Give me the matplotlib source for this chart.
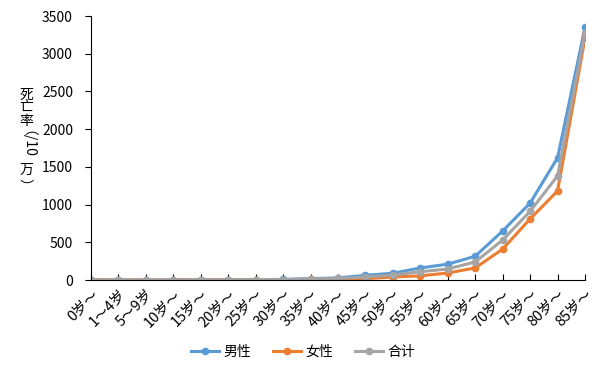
import matplotlib.pyplot as plt

plt.rcParams['font.family'] = ['Noto Sans CJK SC', 'DejaVu Sans']

ages = ['0岁～', '1～4岁', '5～9岁', '10岁～', '15岁～', '20岁～', '25岁～', '30岁～',
        '35岁～', '40岁～', '45岁～', '50岁～', '55岁～', '60岁～', '65岁～', '70岁～',
        '75岁～', '80岁～', '85岁～']
male = [2, 0.5, 0.5, 1, 2, 3, 5, 8, 18, 28, 62, 90, 160, 210, 315, 650, 1020, 1620, 3350]
female = [2, 0.3, 0.3, 0.5, 1, 1.5, 2, 4, 8, 12, 18, 40, 55, 93, 160, 410, 810, 1180, 3210]
total = [2, 0.4, 0.4, 0.7, 1.5, 2, 4, 6, 13, 20, 40, 66, 110, 146, 240, 530, 910, 1380, 3275]

fig = plt.figure(figsize=(6.01, 3.71), dpi=100)
ax = fig.add_axes([91 / 601, 1 - 280 / 371, (585 - 91) / 601, (280 - 16) / 371])

x = range(len(ages))
ax.plot(x, male, color='#5B9BD5', lw=2.2, marker='o', ms=4.5, label='男性')
ax.plot(x, female, color='#ED7D31', lw=2.2, marker='o', ms=4.5, label='女性')
ax.plot(x, total, color='#A5A5A5', lw=2.2, marker='o', ms=4.5, label='合计')

ax.set_xlim(0, len(ages) - 1)
ax.set_ylim(0, 3500)
ax.set_yticks(range(0, 3501, 500))
ax.set_xticks(list(x))
ax.set_xticklabels(ages, rotation=45, ha='right', rotation_mode='anchor', fontsize=10.5)
ax.tick_params(axis='y', direction='out', length=4, labelsize=10, pad=9)
ax.tick_params(axis='x', direction='in', length=4, pad=5)
for s in ['top', 'right']:
    ax.spines[s].set_visible(False)

# vertical y label, East Asian style
fig.text(26 / 601, 1 - 108 / 371, '死\n亡\n率', ha='center', va='center', fontsize=10, linespacing=0.9)
fig.text(21 / 601, 1 - 147 / 371, '（/10', ha='center', va='center', fontsize=10, rotation=-90)
fig.text(26 / 601, 1 - 170 / 371, '万', ha='center', va='center', fontsize=10)
fig.text(24 / 601, 1 - 185 / 371, '）', ha='center', va='center', fontsize=10, rotation=-90)

fig.legend(loc='center', bbox_to_anchor=(303 / 601, 1 - 352 / 371), ncol=3, frameon=False,
           fontsize=10, handlelength=2.0, columnspacing=1.6, handletextpad=0.3)

fig.savefig('out.png', dpi=100)
